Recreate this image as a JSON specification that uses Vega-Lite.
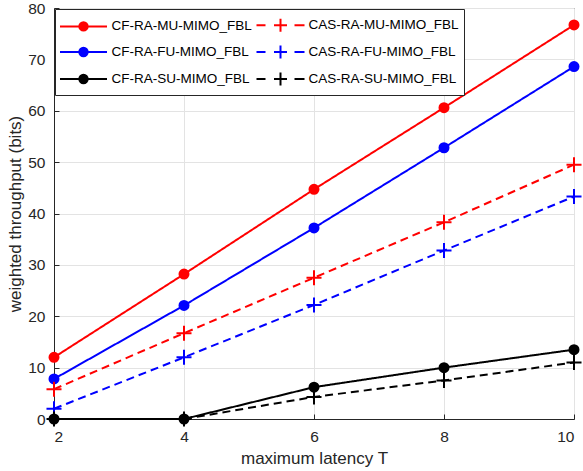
{
  "$schema": "https://vega.github.io/schema/vega-lite/v6.json",
  "width": 520,
  "height": 411,
  "autosize": {"type": "none"},
  "padding": {"left": 54, "top": 8, "right": 9, "bottom": 52},
  "background": "white",
  "config": {
    "font": "Liberation Sans",
    "view": {"stroke": "#262626", "strokeWidth": 1},
    "axis": {
      "domainColor": "#262626",
      "tickColor": "#262626",
      "labelColor": "#262626",
      "titleColor": "#262626",
      "labelFontSize": 15.5,
      "titleFontSize": 17,
      "titleFontWeight": "normal",
      "gridColor": "#e3e3e3",
      "tickSize": -5
    },
    "legend": {
      "labelFontSize": 13.5,
      "labelColor": "#000000"
    }
  },
  "resolve": {"scale": {"shape": "independent", "stroke": "independent", "fill": "independent"}},
  "data": {
    "values": [
      {"T": 2, "series": "CF-RA-MU-MIMO_FBL", "v": 12.0},
      {"T": 4, "series": "CF-RA-MU-MIMO_FBL", "v": 28.2},
      {"T": 6, "series": "CF-RA-MU-MIMO_FBL", "v": 44.7},
      {"T": 8, "series": "CF-RA-MU-MIMO_FBL", "v": 60.6},
      {"T": 10, "series": "CF-RA-MU-MIMO_FBL", "v": 76.7},
      {"T": 2, "series": "CF-RA-FU-MIMO_FBL", "v": 7.8},
      {"T": 4, "series": "CF-RA-FU-MIMO_FBL", "v": 22.1},
      {"T": 6, "series": "CF-RA-FU-MIMO_FBL", "v": 37.2},
      {"T": 8, "series": "CF-RA-FU-MIMO_FBL", "v": 52.8},
      {"T": 10, "series": "CF-RA-FU-MIMO_FBL", "v": 68.6},
      {"T": 2, "series": "CF-RA-SU-MIMO_FBL", "v": 0},
      {"T": 4, "series": "CF-RA-SU-MIMO_FBL", "v": 0},
      {"T": 6, "series": "CF-RA-SU-MIMO_FBL", "v": 6.2},
      {"T": 8, "series": "CF-RA-SU-MIMO_FBL", "v": 10.0},
      {"T": 10, "series": "CF-RA-SU-MIMO_FBL", "v": 13.5},
      {"T": 2, "series": "CAS-RA-MU-MIMO_FBL", "v": 5.8},
      {"T": 4, "series": "CAS-RA-MU-MIMO_FBL", "v": 16.7},
      {"T": 6, "series": "CAS-RA-MU-MIMO_FBL", "v": 27.5},
      {"T": 8, "series": "CAS-RA-MU-MIMO_FBL", "v": 38.3},
      {"T": 10, "series": "CAS-RA-MU-MIMO_FBL", "v": 49.5},
      {"T": 2, "series": "CAS-RA-FU-MIMO_FBL", "v": 2.0},
      {"T": 4, "series": "CAS-RA-FU-MIMO_FBL", "v": 12.0},
      {"T": 6, "series": "CAS-RA-FU-MIMO_FBL", "v": 22.2},
      {"T": 8, "series": "CAS-RA-FU-MIMO_FBL", "v": 32.8},
      {"T": 10, "series": "CAS-RA-FU-MIMO_FBL", "v": 43.3},
      {"T": 2, "series": "CAS-RA-SU-MIMO_FBL", "v": 0},
      {"T": 4, "series": "CAS-RA-SU-MIMO_FBL", "v": 0},
      {"T": 6, "series": "CAS-RA-SU-MIMO_FBL", "v": 4.3},
      {"T": 8, "series": "CAS-RA-SU-MIMO_FBL", "v": 7.5},
      {"T": 10, "series": "CAS-RA-SU-MIMO_FBL", "v": 11.0}
    ]
  },
  "encoding": {
    "x": {
      "field": "T", "type": "quantitative",
      "scale": {"domain": [2, 10], "nice": false},
      "axis": {"values": [2, 4, 6, 8, 10], "title": "maximum latency T", "titlePadding": 6, "labelPadding": 15}
    },
    "y": {
      "field": "v", "type": "quantitative",
      "scale": {"domain": [0, 80], "nice": false},
      "axis": {"values": [0, 10, 20, 30, 40, 50, 60, 70, 80], "title": "weighted throughput (bits)", "titlePadding": 3, "labelPadding": 14}
    }
  },
  "layer": [
    {
      "mark": {"type": "line", "strokeWidth": 2},
      "encoding": {
        "color": {
          "field": "series", "type": "nominal", "legend": null,
          "scale": {
            "domain": ["CF-RA-MU-MIMO_FBL", "CF-RA-FU-MIMO_FBL", "CF-RA-SU-MIMO_FBL", "CAS-RA-MU-MIMO_FBL", "CAS-RA-FU-MIMO_FBL", "CAS-RA-SU-MIMO_FBL"],
            "range": ["#ff0000", "#0000ff", "#000000", "#ff0000", "#0000ff", "#000000"]
          }
        },
        "strokeDash": {
          "field": "series", "type": "nominal", "legend": null,
          "scale": {
            "domain": ["CF-RA-MU-MIMO_FBL", "CF-RA-FU-MIMO_FBL", "CF-RA-SU-MIMO_FBL", "CAS-RA-MU-MIMO_FBL", "CAS-RA-FU-MIMO_FBL", "CAS-RA-SU-MIMO_FBL"],
            "range": [[1, 0], [1, 0], [1, 0], [8, 5], [8, 5], [8, 5]]
          }
        }
      }
    },
    {
      "mark": {"type": "point", "filled": true, "opacity": 1, "strokeWidth": 2},
      "encoding": {
        "color": {"field": "series", "type": "nominal", "legend": null},
        "stroke": {"field": "series", "type": "nominal", "legend": null, "scale": {
            "domain": ["CF-RA-MU-MIMO_FBL", "CF-RA-FU-MIMO_FBL", "CF-RA-SU-MIMO_FBL", "CAS-RA-MU-MIMO_FBL", "CAS-RA-FU-MIMO_FBL", "CAS-RA-SU-MIMO_FBL"],
            "range": ["#ff0000", "#0000ff", "#000000", "#ff0000", "#0000ff", "#000000"]
          }},
        "shape": {
          "field": "series", "type": "nominal", "legend": null,
          "scale": {
            "domain": ["CF-RA-MU-MIMO_FBL", "CF-RA-FU-MIMO_FBL", "CF-RA-SU-MIMO_FBL", "CAS-RA-MU-MIMO_FBL", "CAS-RA-FU-MIMO_FBL", "CAS-RA-SU-MIMO_FBL"],
            "range": ["circle", "circle", "circle", "M-1.67,0H1.67M0,-1.67V1.67", "M-1.67,0H1.67M0,-1.67V1.67", "M-1.67,0H1.67M0,-1.67V1.67"]
          }
        },
        "size": {"value": 81}
      }
    },
    {
      "mark": {"type": "point", "filled": true, "opacity": 0, "strokeWidth": 2},
      "encoding": {
        "fill": {"field": "series", "type": "nominal",
          "scale": {
            "domain": ["CF-RA-MU-MIMO_FBL", "CF-RA-FU-MIMO_FBL", "CF-RA-SU-MIMO_FBL", "CAS-RA-MU-MIMO_FBL", "CAS-RA-FU-MIMO_FBL", "CAS-RA-SU-MIMO_FBL"],
            "range": ["#ff0000", "#0000ff", "#000000", "#ff0000", "#0000ff", "#000000"]
          },
          "legend": {
            "orient": "top-left", "columns": 2, "title": null, "offset": 1,
            "padding": 5, "rowPadding": 5, "columnPadding": 0,
            "fillColor": "white", "strokeColor": "#262626",
            "symbolSize": 400, "symbolStrokeWidth": 2, "symbolOffset": 12.5, "labelOffset": 17, "symbolOpacity": 1
          }
        },
        "stroke": {"field": "series", "type": "nominal",
          "scale": {
            "domain": ["CF-RA-MU-MIMO_FBL", "CF-RA-FU-MIMO_FBL", "CF-RA-SU-MIMO_FBL", "CAS-RA-MU-MIMO_FBL", "CAS-RA-FU-MIMO_FBL", "CAS-RA-SU-MIMO_FBL"],
            "range": ["#ff0000", "#0000ff", "#000000", "#ff0000", "#0000ff", "#000000"]
          },
          "legend": {
            "orient": "top-left", "columns": 2, "title": null, "offset": 1,
            "padding": 5, "rowPadding": 5, "columnPadding": 0,
            "fillColor": "white", "strokeColor": "#262626",
            "symbolSize": 400, "symbolStrokeWidth": 2, "symbolOffset": 12.5, "labelOffset": 17, "symbolOpacity": 1
          }
        },
        "shape": {
          "field": "series", "type": "nominal",
          "scale": {
            "domain": ["CF-RA-MU-MIMO_FBL", "CF-RA-FU-MIMO_FBL", "CF-RA-SU-MIMO_FBL", "CAS-RA-MU-MIMO_FBL", "CAS-RA-FU-MIMO_FBL", "CAS-RA-SU-MIMO_FBL"],
            "range": [
              "M-2.35,0H2.35M-0.42,0A0.42,0.42,0,1,0,0.42,0A0.42,0.42,0,1,0,-0.42,0Z",
              "M-2.35,0H2.35M-0.42,0A0.42,0.42,0,1,0,0.42,0A0.42,0.42,0,1,0,-0.42,0Z",
              "M-2.35,0H2.35M-0.42,0A0.42,0.42,0,1,0,0.42,0A0.42,0.42,0,1,0,-0.42,0Z",
              "M-2.4,0H-1.5M1.4,0H2.4M-0.65,0H0.65M0,-0.65V0.65",
              "M-2.4,0H-1.5M1.4,0H2.4M-0.65,0H0.65M0,-0.65V0.65",
              "M-2.4,0H-1.5M1.4,0H2.4M-0.65,0H0.65M0,-0.65V0.65"
            ]
          },
          "legend": {
            "orient": "top-left", "columns": 2, "title": null, "offset": 1,
            "padding": 5, "rowPadding": 5, "columnPadding": 0,
            "fillColor": "white", "strokeColor": "#262626",
            "symbolSize": 400, "symbolStrokeWidth": 2, "symbolOffset": 12.5, "labelOffset": 17, "symbolOpacity": 1
          }
        },
        "size": {"value": 400}
      }
    }
  ]
}
